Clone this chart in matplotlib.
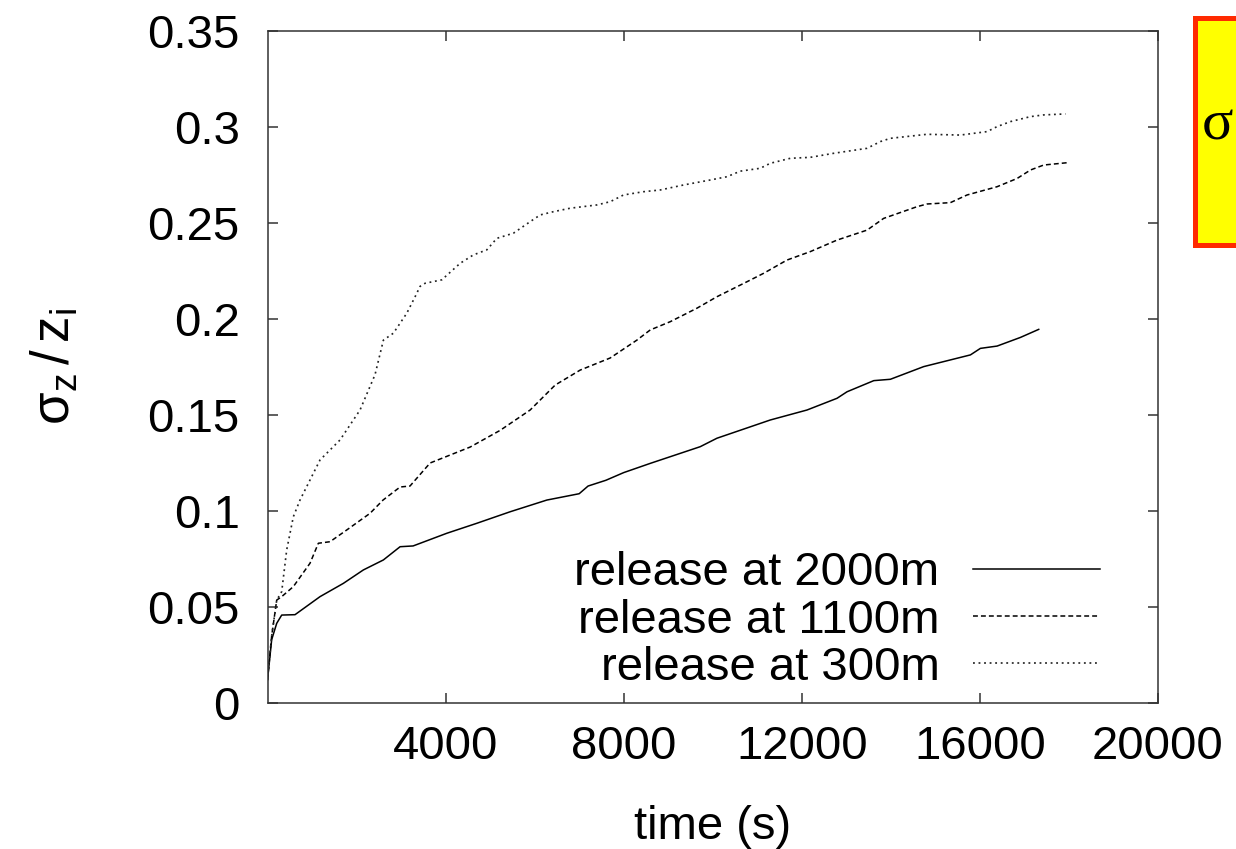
import matplotlib
matplotlib.use("Agg")
import matplotlib.pyplot as plt
from matplotlib.patches import Rectangle

plt.rcParams['font.family'] = ['Liberation Sans', 'DejaVu Sans']
plt.rcParams['mathtext.fontset'] = 'custom'
plt.rcParams['mathtext.rm'] = 'Liberation Sans'
plt.rcParams['mathtext.it'] = 'Liberation Sans'

# ---- data ----
t_2000 = [0, 94, 207, 319, 618, 1180, 1703, 2153, 2602, 2978, 3270, 4027, 4701, 5449,
          6274, 7000, 7200, 7600, 8000, 8596, 9719, 10094, 11292, 12117, 12791, 13016,
          13617, 13989, 14737, 15787, 16011, 16386, 16910, 17321]
s_2000 = [0.012, 0.033, 0.0415, 0.0458, 0.046, 0.0554, 0.0623, 0.0693, 0.0745, 0.0814,
          0.0818, 0.0884, 0.0936, 0.0996, 0.1057, 0.109, 0.113, 0.116, 0.120, 0.1248,
          0.1335, 0.1379, 0.1474, 0.1526, 0.1587, 0.1621, 0.1679, 0.1686, 0.1752,
          0.1813, 0.1847, 0.1859, 0.1904, 0.1946]

t_1100 = [0, 94, 207, 319, 580, 955, 1142, 1404, 1779, 2303, 2595, 2978, 3200, 3652,
          4551, 5225, 5899, 6461, 7023, 7697, 8296, 8596, 9045, 9643, 10094, 10768,
          11143, 11667, 12191, 12791, 13466, 13838, 14588, 14813, 15337, 15712, 16386,
          16836, 17135, 17434, 17960]
s_1100 = [0.012, 0.035, 0.0536, 0.0554, 0.0606, 0.0728, 0.0832, 0.084, 0.0901, 0.0988,
          0.1057, 0.1125, 0.113, 0.125, 0.1333, 0.142, 0.1526, 0.1656, 0.1734, 0.1797,
          0.189, 0.1943, 0.1986, 0.2056, 0.2116, 0.2194, 0.2238, 0.2307, 0.2351,
          0.2411, 0.2463, 0.2524, 0.2585, 0.2599, 0.2606, 0.2646, 0.2689, 0.2732,
          0.2776, 0.2802, 0.2814]

t_300 = [0, 94, 207, 319, 431, 580, 730, 1180, 1629, 2078, 2415, 2603, 2827, 3128, 3315,
         3427, 3539, 3914, 4326, 4625, 4925, 5150, 5524, 5899, 6124, 6423, 6798, 7397,
         7697, 7996, 8445, 8820, 9344, 9944, 10319, 10618, 11067, 11292, 11742, 12191,
         12715, 13466, 13764, 13989, 14813, 15562, 16162, 16386, 16685, 17135, 17434,
         17921]
s_300 = [0.012, 0.035, 0.0536, 0.058, 0.0797, 0.097, 0.1057, 0.1266, 0.137, 0.1526,
         0.171, 0.189, 0.1926, 0.203, 0.2116, 0.217, 0.2186, 0.2204, 0.229, 0.2334,
         0.236, 0.242, 0.2447, 0.2507, 0.2542, 0.2559, 0.2577, 0.2594, 0.2611, 0.2646,
         0.2663, 0.2672, 0.2698, 0.2724, 0.2741, 0.277, 0.2785, 0.2811, 0.2837,
         0.2842, 0.2863, 0.2889, 0.2924, 0.2941, 0.2962, 0.2958, 0.2976, 0.3002,
         0.3028, 0.3054, 0.3063, 0.3068]

series_labels = ["release at 2000m", "release at 1100m", "release at 300m"]
x_ticks = [4000, 8000, 12000, 16000, 20000]
x_ticklabels = ["4000", "8000", "12000", "16000", "20000"]
y_ticks = [0, 0.05, 0.1, 0.15, 0.2, 0.25, 0.3, 0.35]
y_ticklabels = ["0", "0.05", "0.1", "0.15", "0.2", "0.25", "0.3", "0.35"]

W, H = 1236, 849
fig = plt.figure(figsize=(W / 100, H / 100), dpi=100)
ax = fig.add_axes([267.5 / W, 1 - 703 / H, (1158 - 267.5) / W, (703 - 31) / H])

lw = 1.1
ax.plot(t_2000, s_2000, color='black', lw=lw, label=series_labels[0])
ax.plot(t_1100, s_1100, color='black', lw=lw, dashes=[3.2, 2.0], label=series_labels[1])
ax.plot(t_300, s_300, color='#222222', lw=lw * 1.1, dashes=[1.1, 2.2], label=series_labels[2])

ax.set_xlim(0, 20000)
ax.set_ylim(0, 0.35)
ax.set_xticks(x_ticks)
ax.set_xticklabels(x_ticklabels)
ax.set_yticks(y_ticks)
ax.set_yticklabels(y_ticklabels)

fs = 34
ax.tick_params(direction='in', length=7.2, width=1.1, top=True, right=True,
               labelsize=fs, color='#333333')
ax.tick_params(axis='x', pad=16)
ax.tick_params(axis='y', pad=20)
for sp in ax.spines.values():
    sp.set_linewidth(1.1)
    sp.set_color('#333333')

ax.set_xlabel("time (s)", fontsize=fs, labelpad=26)
ax.set_ylabel(r"$\mathregular{\sigma_z\,/\,z_i}$", fontsize=38, labelpad=48)

leg = ax.legend(loc='lower right', bbox_to_anchor=((1100 - 267.5) / 890.5, (703 - 690) / 672),
                frameon=False, fontsize=fs, markerfirst=False, alignment='right',
                handlelength=2.7, handletextpad=0.7, labelspacing=0.07,
                borderpad=0, borderaxespad=0)

# yellow annotation box (cut off at the right edge)
rect = Rectangle((1195 / W, 1 - 245 / H), 0.08, (245 - 18) / H, transform=fig.transFigure,
                 facecolor='#FFFF00', edgecolor='#FF2A00', linewidth=3.6, clip_on=False)
fig.patches.append(rect)
fig.text(1202 / W, 1 - 140 / H, "σ", fontsize=42, family='Liberation Serif',
         ha='left', va='baseline')

fig.savefig("out.png", dpi=100)
